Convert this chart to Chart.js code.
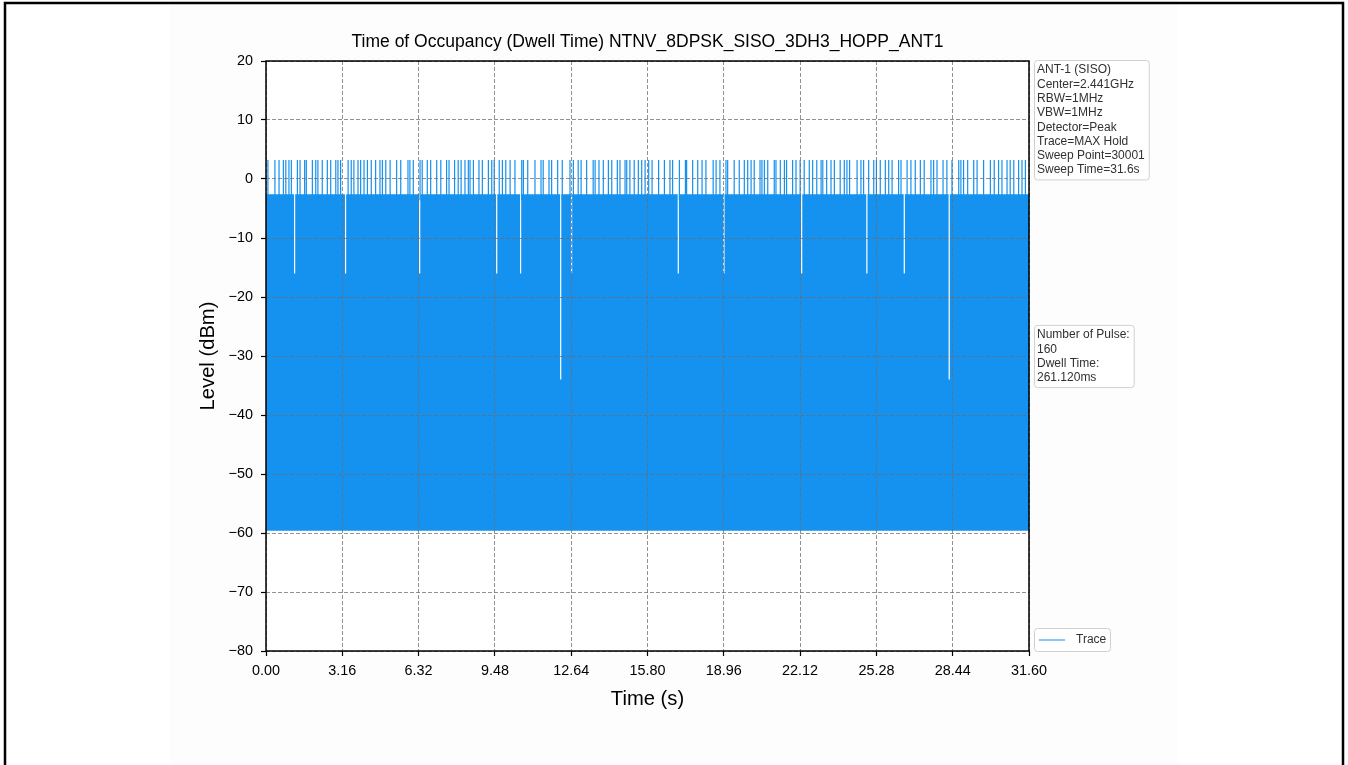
<!DOCTYPE html>
<html>
<head>
<meta charset="utf-8">
<title>Dwell Time</title>
<script src="https://cdn.jsdelivr.net/npm/chart.js@4.4.1/dist/chart.umd.min.js"></script>
<style>
  html, body { margin: 0; padding: 0; background: #fff; }
  #wrap { width: 1348px; height: 765px; position: relative; }
</style>
</head>
<body>
<div id="wrap"><canvas id="dwellChart" width="1348" height="765"></canvas></div>
<script>
const chartTitle = 'Time of Occupancy (Dwell Time) NTNV_8DPSK_SISO_3DH3_HOPP_ANT1';
const xTicks = [0, 3.16, 6.32, 9.48, 12.64, 15.80, 18.96, 22.12, 25.28, 28.44, 31.60];
const yTicks = [20, 10, 0, -10, -20, -30, -40, -50, -60, -70, -80];

const settingLines = ['ANT-1 (SISO)', 'Center=2.441GHz', 'RBW=1MHz', 'VBW=1MHz',
  'Detector=Peak', 'Trace=MAX Hold', 'Sweep Point=30001', 'Sweep Time=31.6s'];
const resultLines = ['Number of Pulse:', '160', 'Dwell Time:', '261.120ms'];

// levels in dBm
const topPulseLevel = 3.2;
const bandLevel = -2.6;
const floorLevel = -59.6;

// times (s) of the pulses that reach the top level
const topPulseTimes = [
  0.08, 0.37, 0.54, 0.72, 0.82, 0.95, 1.05, 1.30, 1.41, 1.60, 1.67, 1.92, 2.06, 2.15, 2.33, 2.54,
  2.68, 2.89, 2.98, 3.09, 3.40, 3.53, 3.64, 3.81, 3.92, 4.06, 4.20, 4.36, 4.54, 4.72, 4.82, 4.96,
  5.14, 5.41, 5.58, 5.88, 5.96, 6.10, 6.38, 6.47, 6.68, 6.82, 7.07, 7.24, 7.48, 7.58, 7.81,
  7.96, 8.08, 8.24, 8.38, 8.45, 8.59, 8.82, 8.96, 9.21, 9.35, 9.45, 9.66, 9.79, 9.93, 10.11,
  10.31, 10.59, 10.66, 10.84, 11.14, 11.39, 11.48, 11.72, 11.83, 12.08, 12.27, 12.59, 12.73,
  12.93, 13.05, 13.28, 13.55, 13.63, 13.79, 13.97, 14.18, 14.32, 14.55, 14.66, 14.87, 14.94,
  15.07, 15.25, 15.42, 15.56, 15.70,
  15.85, 15.99, 16.26, 16.50, 16.73, 16.84, 17.12, 17.37, 17.42, 17.67, 17.88, 18.06, 18.22,
  18.52, 18.64, 18.80, 19.05, 19.12, 19.39, 19.60, 19.81, 19.95, 20.09, 20.22, 20.46, 20.54,
  20.64, 20.78, 21.05, 21.12, 21.30, 21.47, 21.56, 21.81, 21.95, 22.12, 22.29, 22.50, 22.64,
  22.81, 22.99, 23.06, 23.22, 23.40, 23.54,
  23.78, 23.95, 24.06, 24.17, 24.48, 24.64, 24.75, 24.96, 25.17, 25.28, 25.44, 25.65, 25.79,
  25.93, 26.20, 26.30, 26.55, 26.71, 26.89, 27.10, 27.26, 27.54, 27.65, 27.79, 28.04, 28.20,
  28.41, 28.69, 28.78, 28.89, 29.06, 29.31, 29.45, 29.72, 30.00, 30.16, 30.34, 30.48, 30.69,
  30.82, 30.97, 31.17, 31.31, 31.45
];

// [time (s), level (dBm)] where the dense band drops below its usual top
const bandGaps = [
  [1.16, -16], [3.27, -16], [6.34, -16], [9.53, -16], [10.52, -16], [12.18, -34],
  [12.63, -16], [17.05, -16], [18.94, -16], [22.16, -16], [24.86, -16], [26.41, -16],
  [28.27, -34]
];

const traceColor = '#1591ef';
const fontFamily = "'Liberation Sans', Arial, sans-serif";

// band outline: flat at bandLevel with narrow notches at the gaps
const gapWidth = 0.05;
const bandPoints = [{ x: 0, y: bandLevel }];
bandGaps.forEach(([t, lvl]) => {
  bandPoints.push({ x: t, y: bandLevel }, { x: t, y: lvl },
    { x: t + gapWidth, y: lvl }, { x: t + gapWidth, y: bandLevel });
});
bandPoints.push({ x: 31.6, y: bandLevel });

// each top pulse is a vertical stroke, broken from the next by a null
const pulsePoints = [];
topPulseTimes.forEach(t => {
  pulsePoints.push({ x: t, y: bandLevel - 1 }, { x: t, y: topPulseLevel }, { x: t, y: null });
});

function drawBox(ctx, left, top, lines) {
  ctx.font = '12px ' + fontFamily;
  const w = Math.max(...lines.map(s => ctx.measureText(s).width)) + 7;
  const h = lines.length * 14.3 + 5;
  ctx.beginPath();
  ctx.roundRect(left + 0.5, top + 0.5, w, h, 3);
  ctx.fillStyle = 'rgba(255,255,255,0.85)';
  ctx.fill();
  ctx.strokeStyle = '#d0d0d0';
  ctx.lineWidth = 1;
  ctx.stroke();
  ctx.fillStyle = '#303030';
  ctx.textBaseline = 'middle';
  ctx.textAlign = 'left';
  lines.forEach((s, i) => ctx.fillText(s, left + 3, top + 10 + i * 14.3));
}

const decorations = {
  id: 'decorations',
  beforeDraw(chart) {
    const { ctx, chartArea: a } = chart;
    ctx.save();
    ctx.fillStyle = '#fff';
    ctx.fillRect(0, 0, chart.width, chart.height);
    ctx.fillStyle = '#fdfdfd';
    ctx.fillRect(170, 0, 1008, chart.height);
    ctx.fillStyle = '#fff';
    ctx.fillRect(a.left, a.top, a.width, a.height);
    ctx.restore();
  },
  afterDraw(chart) {
    const { ctx, chartArea: a } = chart;
    ctx.save();
    // title, centred over the plot area
    ctx.font = '17.5px ' + fontFamily;
    ctx.fillStyle = '#000';
    ctx.textAlign = 'center';
    ctx.textBaseline = 'middle';
    ctx.fillText(chartTitle, (a.left + a.right) / 2, 42);

    // all four spines
    ctx.strokeStyle = '#000';
    ctx.lineWidth = 1.5;
    ctx.strokeRect(a.left, a.top, a.width, a.height);

    drawBox(ctx, a.right + 5, a.top - 1, settingLines);
    const h2 = resultLines.length * 14.3 + 5;
    drawBox(ctx, a.right + 5, (a.top + a.bottom) / 2 - h2 / 2, resultLines);

    // legend
    const lx = a.right + 5, ly = a.bottom - 23;
    ctx.beginPath();
    ctx.roundRect(lx + 0.5, ly + 0.5, 76, 23, 3);
    ctx.fillStyle = 'rgba(255,255,255,0.85)';
    ctx.fill();
    ctx.strokeStyle = '#d0d0d0';
    ctx.lineWidth = 1;
    ctx.stroke();
    ctx.beginPath();
    ctx.moveTo(lx + 5, ly + 12);
    ctx.lineTo(lx + 31, ly + 12);
    ctx.strokeStyle = traceColor;
    ctx.stroke();
    ctx.font = '12px ' + fontFamily;
    ctx.fillStyle = '#303030';
    ctx.textAlign = 'left';
    ctx.textBaseline = 'middle';
    ctx.fillText('Trace', lx + 42, ly + 12);

    // page frame
    ctx.strokeStyle = '#000';
    ctx.lineWidth = 2.5;
    ctx.strokeRect(5, 3, 1338, 800);
    ctx.restore();
  }
};

const gridOpts = {
  color: 'rgba(110,110,110,0.75)',
  lineWidth: 1,
  z: 1,
  tickColor: '#000',
  tickLength: 5,
  tickWidth: 1.2
};
const borderOpts = { display: false, color: '#000', width: 1.5, dash: [4, 2], z: 1 };

const ctx = document.getElementById('dwellChart').getContext('2d');
new Chart(ctx, {
  type: 'line',
  data: {
    datasets: [
      {
        label: 'Trace',
        data: pulsePoints,
        borderColor: traceColor,
        borderWidth: 1.2,
        pointRadius: 0,
        spanGaps: false,
        fill: false,
        order: 1
      },
      {
        label: 'band',
        data: bandPoints,
        borderWidth: 0,
        borderColor: traceColor,
        backgroundColor: traceColor,
        pointRadius: 0,
        tension: 0,
        fill: { value: floorLevel },
        order: 2
      }
    ]
  },
  options: {
    responsive: false,
    animation: false,
    devicePixelRatio: 1,
    layout: { padding: { left: 0, top: 61, right: 319, bottom: 0 } },
    plugins: {
      legend: { display: false },
      tooltip: { enabled: false },
      title: { display: false }
    },
    scales: {
      x: {
        type: 'linear',
        min: 0,
        max: 31.6,
        afterBuildTicks: scale => { scale.ticks = xTicks.map(v => ({ value: v })); },
        afterFit: scale => { scale.height = 114; },
        ticks: {
          color: '#000',
          font: { family: fontFamily, size: 14.4 },
          padding: 6,
          maxRotation: 0,
          autoSkip: false,
          callback: v => Number(v).toFixed(2)
        },
        grid: gridOpts,
        border: borderOpts,
        title: {
          display: true,
          text: 'Time (s)',
          color: '#000',
          font: { family: fontFamily, size: 20.2 },
          padding: { top: 0, bottom: 53 }
        }
      },
      y: {
        min: -80,
        max: 20,
        afterBuildTicks: scale => { scale.ticks = yTicks.map(v => ({ value: v })); },
        afterFit: scale => { scale.width = 266; },
        ticks: {
          color: '#000',
          font: { family: fontFamily, size: 14.4 },
          padding: 8,
          callback: v => String(v).replace('-', '\u2212')
        },
        grid: gridOpts,
        border: borderOpts,
        title: {
          display: true,
          text: 'Level (dBm)',
          color: '#000',
          font: { family: fontFamily, size: 20.2 },
          padding: { top: 196, bottom: 0 }
        }
      }
    }
  },
  plugins: [decorations]
});
</script>
</body>
</html>
